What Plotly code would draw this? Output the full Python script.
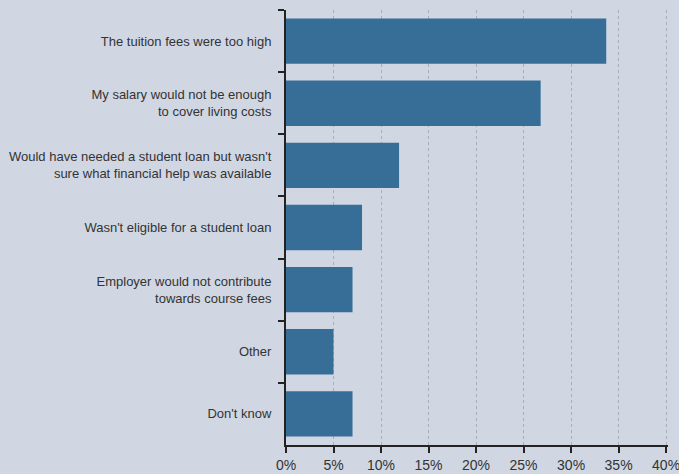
import plotly.graph_objects as go

# Reasons given for not taking up a course (share of respondents, %)
reasons = [
    "The tuition fees were too high",
    "My salary would not be enough<br>to cover living costs",
    "Would have needed a student loan but wasn't<br>sure what financial help was available",
    "Wasn't eligible for a student loan",
    "Employer would not contribute<br>towards course fees",
    "Other",
    "Don't know",
]
shares = [33.7, 26.8, 11.9, 8.0, 7.0, 5.0, 7.0]
tick_values = [0, 5, 10, 15, 20, 25, 30, 35, 40]
tick_labels = [f"{v}%" for v in tick_values]

BG = "#d0d7e3"
BAR = "#366e98"
INK = "#222222"
TEXT = "#333333"

fig = go.Figure(
    go.Bar(
        x=shares,
        y=reasons,
        orientation="h",
        marker=dict(color=BAR, line=dict(width=0)),
        hoverinfo="x+y",
    )
)

fig.update_layout(
    width=679,
    height=474,
    paper_bgcolor=BG,
    plot_bgcolor=BG,
    margin=dict(l=286, r=11, t=10, b=29),
    bargap=0.27,
    showlegend=False,
    font=dict(family="Liberation Sans, Arial, sans-serif", size=13, color=TEXT),
)

fig.update_xaxes(
    # a little headroom past 40% so its dotted gridline is still drawn
    range=[0, 40.2],
    tickvals=tick_values,
    ticktext=tick_labels,
    showgrid=True,
    gridcolor="#a9adb5",
    gridwidth=1,
    griddash="3px,3px",
    zeroline=False,
    showline=True,
    linecolor=INK,
    linewidth=2,
    ticks="outside",
    ticklen=6,
    tickwidth=2,
    tickcolor=INK,
    tickfont=dict(size=14, color=TEXT),
    ticklabeloverflow="allow",
    automargin=False,
)

fig.update_yaxes(
    autorange="reversed",
    showgrid=False,
    zeroline=False,
    showline=True,
    linecolor=INK,
    linewidth=2,
    ticks="outside",
    tickson="boundaries",
    ticklen=6,
    tickwidth=2,
    tickcolor=INK,
    ticklabelstandoff=10,
    tickfont=dict(size=13, color=TEXT),
    automargin=False,
)

fig.write_html("out.html")
